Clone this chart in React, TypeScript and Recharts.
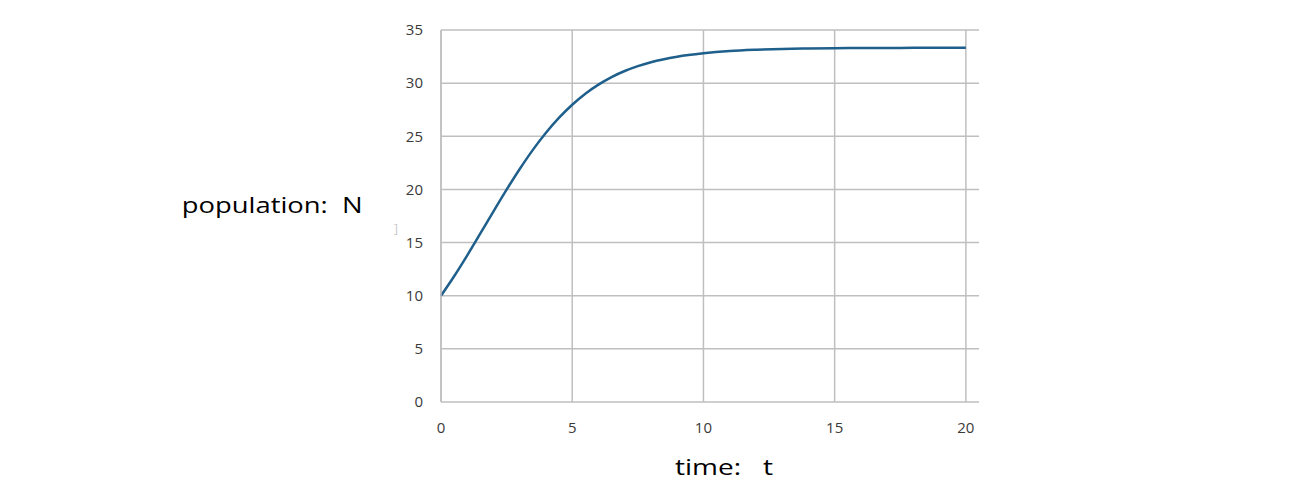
import {CartesianGrid, Label, Line, LineChart, ReferenceLine, XAxis, YAxis} from "recharts";

// time t and population N
const times = [0, 0.5, 1, 1.5, 2, 2.5, 3, 3.5, 4, 4.5, 5, 5.5, 6, 6.5, 7, 7.5, 8, 9, 10, 11, 12, 13, 14, 15, 16, 17, 18, 19, 20]
const population = [10, 11.83, 13.8, 15.86, 17.94, 19.98, 21.92, 23.72, 25.33, 26.75, 27.97, 29.01, 29.86, 30.57, 31.14, 31.6,
    31.97, 32.49, 32.81, 33.02, 33.14, 33.22, 33.26, 33.29, 33.3, 33.31, 33.32, 33.33, 33.33]
const xTicks = [0, 5, 10, 15, 20]
const yTicks = [0, 5, 10, 15, 20, 25, 30, 35]

const data = times.map((t, i) => ({t, n: population[i]}))

const font = "'Open Sans', 'Noto Sans', sans-serif"
const gridColor = '#bfbfbf'

export default function App() {
    return (
        <LineChart width={1280} height={473} data={data}
                   margin={{top: 22, right: 309, bottom: 49, left: 0}}
                   style={{fontFamily: font}}>
            <CartesianGrid stroke={gridColor} strokeWidth={1.5} vertical={false}/>
            {/* vertical grid only at the x ticks, none at the right end of the domain */}
            {xTicks.map(t => (
                <ReferenceLine key={t} x={t} stroke={gridColor} strokeWidth={1.5}/>
            ))}
            <XAxis dataKey="t" type="number" domain={[0, 20.5]} ticks={xTicks} height={30}
                   axisLine={false} tickLine={false} tickSize={0} tickMargin={20}
                   tick={{fill: '#3a3a3a', fontSize: 15}}>
                <Label content={({viewBox}: any) => (
                    <text x={viewBox.x + 234} y={viewBox.y + 72.7} fontSize={21} fill="#000"
                          textLength={98} lengthAdjust="spacingAndGlyphs" style={{whiteSpace: 'pre'}}>
                        time:   t
                    </text>
                )}/>
            </XAxis>
            <YAxis type="number" domain={[0, 35]} ticks={yTicks} width={433}
                   axisLine={{stroke: gridColor, strokeWidth: 1.5}} tickLine={false} tickSize={0} tickMargin={18}
                   tick={{fill: '#3a3a3a', fontSize: 15}}>
                <Label content={({viewBox}: any) => (
                    <g>
                        <text x={viewBox.x + 173.7} y={viewBox.y + 182.5} fontSize={21} fill="#000"
                              textLength={181} lengthAdjust="spacingAndGlyphs" style={{whiteSpace: 'pre'}}>
                            population:  N
                        </text>
                        <text x={viewBox.x + 386} y={viewBox.y + 203} fontSize={12} fill="#c8c8c8">]</text>
                    </g>
                )}/>
            </YAxis>
            <Line dataKey="n" type="monotone" stroke="#1f5f8b" strokeWidth={2.5} dot={false}
                  isAnimationActive={false}/>
        </LineChart>
    );
}
